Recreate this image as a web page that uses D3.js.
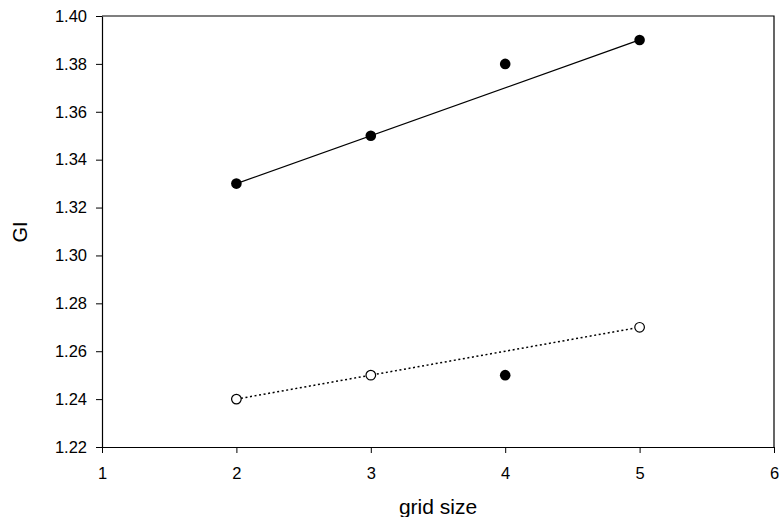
<!DOCTYPE html>
<html lang="en">
<head>
    <meta charset="UTF-8">
    <title>GI vs grid size</title>
    <script src="https://d3js.org/d3.v7.min.js"></script>
    <style type="text/css">
        body {
            margin: 0;
            background: #ffffff;
            font-family: "Liberation Sans", Arial, sans-serif;
        }
        .axis text {
            font-size: 16.5px;
            font-family: "Liberation Sans", Arial, sans-serif;
            fill: #000;
        }
        .axis path, .axis line {
            stroke: #000;
        }
    </style>
</head>
<body>
    <div id="chart"></div>
    <script type="text/javascript">
        // Data
        const gridSize = [2, 3, 4, 5];
        const upperGI = [1.33, 1.35, 1.38, 1.39];          // filled dots
        const lowerGI = [1.24, 1.25, 1.25, 1.27];          // lower group
        const lowerFilled = [false, false, true, false];   // the x=4 point is filled
        // fitted lines (endpoints)
        const upperFitX = [2, 5], upperFitY = [1.33, 1.39];
        const lowerFitX = [2, 5], lowerFitY = [1.24, 1.27];
        const xTicks = [1, 2, 3, 4, 5, 6];
        const yTicks = [1.22, 1.24, 1.26, 1.28, 1.30, 1.32, 1.34, 1.36, 1.38, 1.40];

        const W = 779, H = 517;
        const margin = {top: 16, right: 5, bottom: 70, left: 102};
        const width = W - margin.left - margin.right,
              height = H - margin.top - margin.bottom;

        const svg = d3.select('#chart').append('svg')
            .attr('width', W)
            .attr('height', H);

        const g = svg.append('g')
            .attr('transform', `translate(${margin.left},${margin.top})`);

        const x = d3.scaleLinear().domain([1, 6]).range([0, width]);
        const y = d3.scaleLinear().domain([1.22, 1.40]).range([height, 0]);

        // frame (top and right)
        g.append('path')
            .attr('d', `M0,0H${width}V${height}`)
            .attr('fill', 'none')
            .attr('stroke', '#000')
            .attr('stroke-width', 1.2);

        // axes
        g.append('g')
            .attr('class', 'axis')
            .attr('transform', `translate(0,${height})`)
            .call(d3.axisBottom(x).tickValues(xTicks).tickFormat(d3.format('d'))
                .tickSize(6).tickSizeOuter(0).tickPadding(14))
            .call(s => s.select('.domain').attr('stroke-width', 1.2));

        g.append('g')
            .attr('class', 'axis')
            .call(d3.axisLeft(y).tickValues(yTicks).tickFormat(d3.format('.2f'))
                .tickSize(6).tickSizeOuter(0).tickPadding(9))
            .call(s => s.select('.domain').attr('stroke-width', 1.2));

        // fit lines
        const line = d3.line().x(d => x(d[0])).y(d => y(d[1]));
        g.append('path')
            .datum(d3.zip(upperFitX, upperFitY))
            .attr('d', line)
            .attr('fill', 'none')
            .attr('stroke', '#000')
            .attr('stroke-width', 1.3);

        g.append('path')
            .datum(d3.zip(lowerFitX, lowerFitY))
            .attr('d', line)
            .attr('fill', 'none')
            .attr('stroke', '#000')
            .attr('stroke-width', 1.5)
            .attr('stroke-dasharray', '2,2.6');

        // points
        g.selectAll('.up')
            .data(d3.zip(gridSize, upperGI))
            .enter().append('circle')
            .attr('class', 'up')
            .attr('cx', d => x(d[0]))
            .attr('cy', d => y(d[1]))
            .attr('r', 5.3)
            .attr('fill', '#000');

        g.selectAll('.low')
            .data(gridSize.map((v, i) => [v, lowerGI[i], lowerFilled[i]]))
            .enter().append('circle')
            .attr('class', 'low')
            .attr('cx', d => x(d[0]))
            .attr('cy', d => y(d[1]))
            .attr('r', d => d[2] ? 5.3 : 4.8)
            .attr('fill', d => d[2] ? '#000' : '#fff')
            .attr('stroke', '#000')
            .attr('stroke-width', d => d[2] ? 0 : 1.2);

        // axis titles
        svg.append('text')
            .attr('x', margin.left + width / 2)
            .attr('y', 514)
            .attr('text-anchor', 'middle')
            .style('font-size', '21px')
            .text('grid size');

        svg.append('text')
            .attr('transform', `translate(27,232) rotate(-90)`)
            .attr('text-anchor', 'middle')
            .style('font-size', '20px')
            .text('GI');
    </script>
</body>
</html>
